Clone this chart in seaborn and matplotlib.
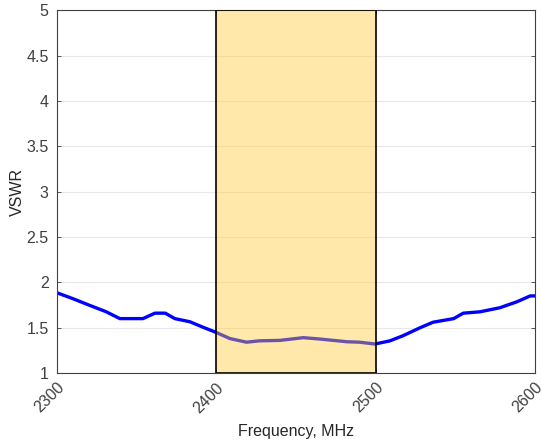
import numpy as np
import pandas as pd
import matplotlib
matplotlib.use("Agg")
import matplotlib.pyplot as plt
import seaborn as sns
from matplotlib.patches import Rectangle

# data
freq = [2300, 2310, 2320, 2331, 2339.5, 2354, 2361.5, 2368, 2374, 2383.5, 2391,
        2399.6, 2408.6, 2419, 2427, 2440, 2454.6, 2465, 2482, 2490, 2499.6,
        2509, 2517, 2528, 2536, 2549, 2555, 2565.5, 2578, 2588.6, 2597, 2600]
vswr = [1.885, 1.82, 1.75, 1.675, 1.60, 1.60, 1.66, 1.66, 1.60, 1.565, 1.51,
        1.45, 1.38, 1.34, 1.355, 1.36, 1.39, 1.375, 1.345, 1.34, 1.32,
        1.355, 1.41, 1.50, 1.56, 1.60, 1.66, 1.675, 1.72, 1.785, 1.85, 1.85]
band = [2400, 2500]
xticks = [2300, 2400, 2500, 2600]
yticks = [1, 1.5, 2, 2.5, 3, 3.5, 4, 4.5, 5]

sns.set_theme(style="white")
plt.rcParams['font.family'] = ['Liberation Sans', 'DejaVu Sans']

df = pd.DataFrame({"freq": freq, "vswr": vswr})

fig = plt.figure(figsize=(5.42, 4.42), dpi=100)
ax = fig.add_axes([0.105, 0.156, 0.882, 0.821])

sns.lineplot(data=df, x="freq", y="vswr", ax=ax, color="#0000ff", linewidth=2.4)

# operating band, drawn over the curve
ax.add_patch(Rectangle((band[0], 1), band[1] - band[0], 4,
                       facecolor="#ffc936", alpha=0.42, edgecolor="none", zorder=3))
ax.add_patch(Rectangle((band[0], 1), band[1] - band[0], 4,
                       facecolor="none", edgecolor="black", linewidth=1.2, zorder=4))

ax.set_xlim(2300, 2600)
ax.set_ylim(1, 5)
ax.set_xticks(xticks)
ax.set_yticks(yticks)
ax.set_yticklabels([f"{t:g}" for t in yticks])
ax.yaxis.grid(True, color="#e8e8e8", linewidth=0.8)
ax.set_axisbelow(True)
plt.setp(ax.get_xticklabels(), rotation=45, ha="right", rotation_mode="anchor")
ax.tick_params(direction="in", length=3, labelsize=11.5, colors="#404040",
               top=True, right=True, bottom=True, left=True, width=0.6)
ax.tick_params(axis="y", pad=6)
ax.tick_params(axis="x", pad=5)
for s in ax.spines.values():
    s.set_color("#404040")
    s.set_linewidth(0.8)

ax.set_xlabel("Frequency, MHz", fontsize=11.5, color="#262626", labelpad=6)
ax.set_ylabel("VSWR", fontsize=11.5, color="#262626", labelpad=1)

plt.savefig("out.png", dpi=100)
